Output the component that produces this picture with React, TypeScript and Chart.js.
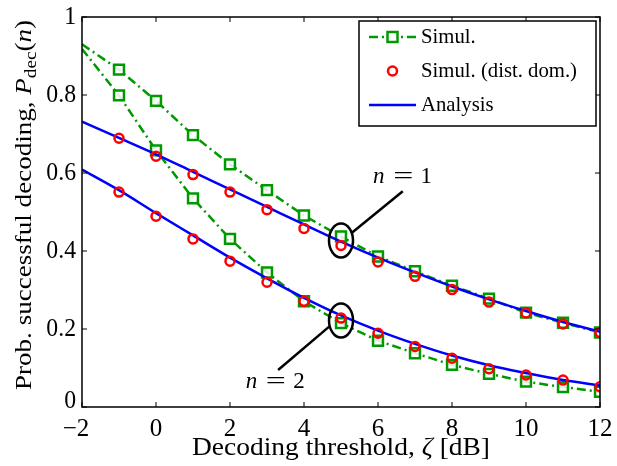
import React, { useEffect, useRef } from "react";
import { Chart, registerables } from "chart.js";

Chart.register(...registerables);

// ---- data ----
const thresholds = [-2, -1, 0, 1, 2, 3, 4, 5, 6, 7, 8, 9, 10, 11, 12];
const simN1 = [0.93, 0.865, 0.785, 0.697, 0.622, 0.556, 0.491, 0.437, 0.386, 0.348, 0.311, 0.278, 0.242, 0.216, 0.191];
const simN2 = [0.918, 0.799, 0.658, 0.535, 0.431, 0.345, 0.271, 0.215, 0.17, 0.138, 0.108, 0.085, 0.065, 0.051, 0.039];
const distN1 = [null, 0.689, 0.643, 0.596, 0.551, 0.506, 0.458, 0.414, 0.372, 0.335, 0.301, 0.269, 0.241, 0.213, 0.191];
const distN2 = [null, 0.551, 0.489, 0.431, 0.374, 0.32, 0.271, 0.228, 0.189, 0.155, 0.125, 0.098, 0.082, 0.069, 0.052];
const anaN1 = [0.732, 0.69, 0.648, 0.603, 0.558, 0.513, 0.468, 0.424, 0.383, 0.345, 0.309, 0.276, 0.246, 0.218, 0.193];
const anaN2 = [0.609, 0.556, 0.497, 0.44, 0.383, 0.33, 0.28, 0.235, 0.196, 0.162, 0.132, 0.107, 0.087, 0.069, 0.055];

const xTicks = [-2, 0, 2, 4, 6, 8, 10, 12];
const yTicks = [0, 0.2, 0.4, 0.6, 0.8, 1];
const xTickLabels = ["\u22122", "0", "2", "4", "6", "8", "10", "12"];
const yTickLabels = ["0", "0.2", "0.4", "0.6", "0.8", "1"];

const legendLabels = ["Simul.", "Simul. (dist. dom.)", "Analysis"];
const xTitle = "Decoding threshold, ";
const yTitle = "Prob. successful decoding, ";

// annotation: ellipse centres, leader-line ends and labels (data coords)
const annotations = [
  { n: "1", cx: 5, cy: 0.427, fromX: 5.27, fromY: 0.445, toX: 6.67, toY: 0.553, labelX: 6.64, labelY: 0.589 },
  { n: "2", cx: 5, cy: 0.222, fromX: 4.68, fromY: 0.206, toX: 3.3, toY: 0.095, labelX: 3.2, labelY: 0.063 },
];

const GREEN = "#009a00";
const RED = "#ff0000";
const BLUE = "#0000ff";
const FONT = "'Liberation Serif', serif";

const pts = (ys: (number | null)[]) => thresholds.map((x, i) => ({ x, y: ys[i] }));
const squareRadii = thresholds.map((x) => (x === -2 ? 0 : 7));

function font(size: number, italic = false) {
  return `${italic ? "italic " : ""}${size}px ${FONT}`;
}

function txt(ctx: any, t: string, x: number, y: number, size: number, align: string, opts: any = {}) {
  ctx.save();
  ctx.font = font(size, !!opts.italic);
  ctx.textBaseline = opts.baseline || "middle";
  ctx.textAlign = align;
  ctx.translate(x, y);
  ctx.scale(opts.sx || 1, 1);
  ctx.fillText(t, 0, 0);
  ctx.restore();
}

const decoPlugin = {
  id: "deco",
  afterDraw(chart: any) {
    const { ctx, chartArea: a, scales } = chart;
    const xs = scales.x;
    const ys = scales.y;
    ctx.save();
    ctx.fillStyle = "#000";
    ctx.strokeStyle = "#000";
    ctx.lineWidth = 1.5;
    ctx.strokeRect(a.left, a.top, a.right - a.left, a.bottom - a.top);
    ctx.lineWidth = 1;
    const tl = 5;
    xTicks.forEach((v, i) => {
      const px = xs.getPixelForValue(v);
      ctx.beginPath();
      ctx.moveTo(px, a.bottom);
      ctx.lineTo(px, a.bottom - tl);
      ctx.moveTo(px, a.top);
      ctx.lineTo(px, a.top + tl);
      ctx.stroke();
      const shift = v < 0 ? -6 : 0;
      txt(ctx, xTickLabels[i], px + shift, a.bottom + 22, 25, "center");
    });
    yTicks.forEach((v, i) => {
      const py = ys.getPixelForValue(v);
      ctx.beginPath();
      ctx.moveTo(a.left, py);
      ctx.lineTo(a.left + tl, py);
      ctx.moveTo(a.right, py);
      ctx.lineTo(a.right - tl, py);
      ctx.stroke();
      const shift = v === 0 ? -6 : 0;
      txt(ctx, yTickLabels[i], a.left - 6, py + shift, 25, "right", { sx: 0.95 });
    });

    // annotations
    ctx.lineWidth = 2.5;
    ctx.strokeStyle = "#000";
    annotations.forEach((an) => {
      ctx.beginPath();
      ctx.ellipse(xs.getPixelForValue(an.cx), ys.getPixelForValue(an.cy), 12, 17, 0, 0, Math.PI * 2);
      ctx.stroke();
      ctx.beginPath();
      ctx.moveTo(xs.getPixelForValue(an.fromX), ys.getPixelForValue(an.fromY));
      ctx.lineTo(xs.getPixelForValue(an.toX), ys.getPixelForValue(an.toY));
      ctx.stroke();
      const lx = xs.getPixelForValue(an.labelX);
      const ly = ys.getPixelForValue(an.labelY);
      txt(ctx, "n", lx - 23, ly, 23, "center", { italic: true });
      txt(ctx, "=", lx + 1.5, ly, 23, "center", { sx: 1.55 });
      txt(ctx, an.n, lx + 24.5, ly, 23, "center");
    });

    // x title
    {
      const size = 25;
      ctx.font = font(size);
      const wA = ctx.measureText(xTitle).width;
      ctx.font = font(size, true);
      const wB = ctx.measureText("\u03b6").width;
      ctx.font = font(size);
      const wC = ctx.measureText(" [dB]").width;
      const natural = wA + wB + wC;
      const target = 298;
      const sx = target / natural;
      const cx = (a.left + a.right) / 2;
      const by = 455;
      ctx.save();
      ctx.translate(cx - target / 2, by);
      ctx.scale(sx, 1);
      ctx.textBaseline = "alphabetic";
      ctx.textAlign = "left";
      ctx.font = font(size);
      ctx.fillText(xTitle, 0, 0);
      ctx.font = font(size, true);
      ctx.fillText("\u03b6", wA, 0);
      ctx.font = font(size);
      ctx.fillText(" [dB]", wA + wB, 0);
      ctx.restore();
    }

    // y title (rotated)
    {
      const size = 24;
      const parts = [
        { t: yTitle, f: font(size), dy: 0 },
        { t: "P", f: font(size, true), dy: 0 },
        { t: "dec", f: font(17), dy: 5 },
        { t: "(", f: font(size), dy: 0 },
        { t: "n", f: font(size, true), dy: 0 },
        { t: ")", f: font(size), dy: 0 },
      ];
      let total = 0;
      parts.forEach((p) => {
        ctx.font = p.f;
        total += ctx.measureText(p.t).width;
      });
      const target = 370;
      ctx.save();
      ctx.translate(31, 205);
      ctx.rotate(-Math.PI / 2);
      ctx.scale(target / total, 1);
      ctx.textBaseline = "alphabetic";
      ctx.textAlign = "left";
      let tx = -total / 2;
      parts.forEach((p) => {
        ctx.font = p.f;
        ctx.fillText(p.t, tx, p.dy);
        tx += ctx.measureText(p.t).width;
      });
      ctx.restore();
    }

    // legend
    const lx0 = 359, ly0 = 21, lw = 237, lh = 105;
    ctx.fillStyle = "#fff";
    ctx.fillRect(lx0, ly0, lw, lh);
    ctx.strokeStyle = "#000";
    ctx.lineWidth = 1.5;
    ctx.strokeRect(lx0, ly0, lw, lh);
    const sx0 = 369, sx1 = 416, smid = 392.5;
    const rows = [37, 71, 105];
    ctx.strokeStyle = GREEN;
    ctx.lineWidth = 2.5;
    ctx.setLineDash([9, 4, 2, 4]);
    ctx.beginPath();
    ctx.moveTo(sx0, rows[0]);
    ctx.lineTo(sx1, rows[0]);
    ctx.stroke();
    ctx.setLineDash([]);
    ctx.fillStyle = "#fff";
    ctx.fillRect(smid - 5, rows[0] - 5, 10, 10);
    ctx.strokeRect(smid - 5, rows[0] - 5, 10, 10);
    ctx.strokeStyle = RED;
    ctx.beginPath();
    ctx.arc(smid, rows[1], 4.5, 0, Math.PI * 2);
    ctx.stroke();
    ctx.strokeStyle = BLUE;
    ctx.beginPath();
    ctx.moveTo(sx0, rows[2]);
    ctx.lineTo(sx1, rows[2]);
    ctx.stroke();
    ctx.fillStyle = "#000";
    {
      const size = 22;
      ctx.font = font(size);
      const natural = ctx.measureText(legendLabels[1]).width;
      const sx = 156 / natural;
      legendLabels.forEach((t, i) => txt(ctx, t, 421, rows[i], size, "left", { sx }));
    }
    ctx.restore();
  },
};

export default function App() {
  const ref = useRef<HTMLCanvasElement>(null);
  useEffect(() => {
    if (!ref.current) return;
    const greenLine = (data: (number | null)[]) => ({
      data: pts(data),
      borderColor: GREEN,
      backgroundColor: "#fff",
      borderWidth: 2.5,
      borderDash: [9, 4, 2, 4],
      pointStyle: "rect",
      pointRadius: squareRadii,
      pointBorderWidth: 2.5,
      pointBorderColor: GREEN,
      pointBackgroundColor: "rgba(255,255,255,0.85)",
      tension: 0,
      order: 3,
    });
    const redPts = (data: (number | null)[]) => ({
      data: pts(data),
      showLine: false,
      borderColor: RED,
      backgroundColor: "rgba(0,0,0,0)",
      pointStyle: "circle",
      pointRadius: 4.5,
      pointBorderWidth: 2.5,
      pointBorderColor: RED,
      pointBackgroundColor: "rgba(0,0,0,0)",
      order: 1,
    });
    const blueLine = (data: (number | null)[]) => ({
      data: pts(data),
      borderColor: BLUE,
      borderWidth: 2.5,
      pointRadius: 0,
      cubicInterpolationMode: "monotone",
      order: 2,
    });
    const chart = new Chart(ref.current, {
      type: "line",
      data: {
        datasets: [
          greenLine(simN1),
          greenLine(simN2),
          redPts(distN1),
          redPts(distN2),
          blueLine(anaN1),
          blueLine(anaN2),
        ] as any,
      },
      options: {
        animation: false,
        responsive: false,
        layout: { padding: { top: 17, right: 17, left: 0, bottom: 0 } },
        plugins: { legend: { display: false }, tooltip: { enabled: false } },
        scales: {
          x: {
            type: "linear",
            min: -2,
            max: 12,
            grid: { display: false, drawTicks: false },
            border: { display: false },
            ticks: { display: false },
            afterFit: (s: any) => {
              s.height = 59;
            },
          },
          y: {
            type: "linear",
            min: 0,
            max: 1,
            grid: { display: false, drawTicks: false },
            border: { display: false },
            ticks: { display: false },
            afterFit: (s: any) => {
              s.width = 82;
            },
          },
        },
      } as any,
      plugins: [decoPlugin],
    });
    return () => chart.destroy();
  }, []);
  return (
    <div style={{ position: "fixed", left: 0, top: 0, width: 617, height: 466, background: "#fff" }}>
      <canvas ref={ref} width={617} height={466} style={{ width: 617, height: 466 }} />
    </div>
  );
}
